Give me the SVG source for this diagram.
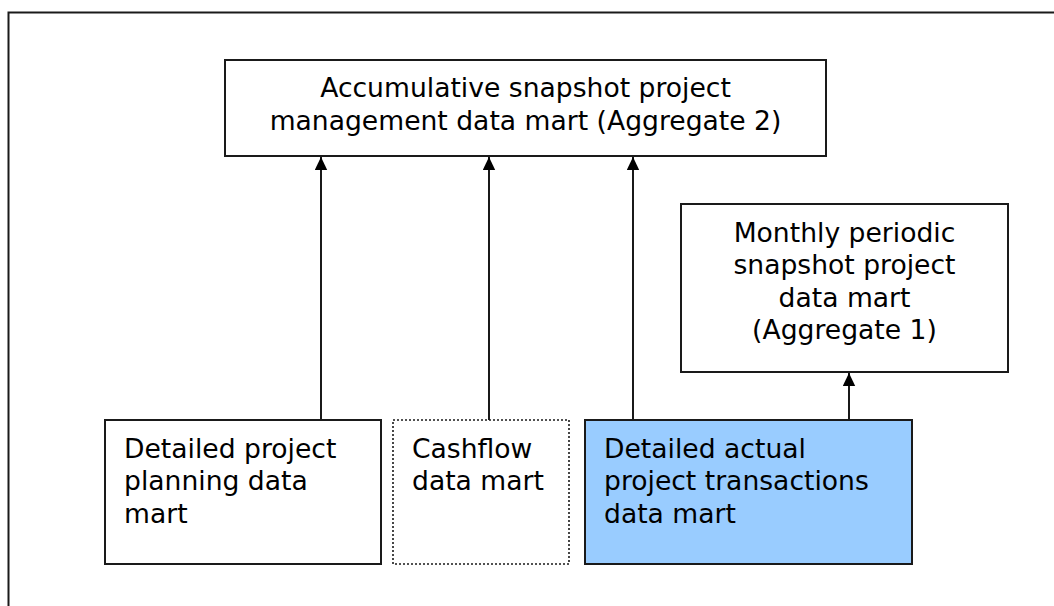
<svg xmlns="http://www.w3.org/2000/svg" width="1054" height="606" viewBox="0 0 1054 606">
  <style>
    .box { fill: #ffffff; stroke: #1a1a1a; stroke-width: 2; }
    .fact { fill: #99ccff; stroke: #1a1a1a; stroke-width: 2; }
    .dotted { fill: #ffffff; stroke: #1a1a1a; stroke-width: 1.6; stroke-dasharray: 2 2; }
    .frame { fill: none; stroke: #1a1a1a; stroke-width: 2; }
    .edge { stroke: #000000; stroke-width: 1.8; fill: none; marker-end: url(#arrow); }
    text { font-family: "DejaVu Sans", Verdana, sans-serif; font-size: 26.6px; fill: #000000; }
    .c { text-anchor: middle; }
  </style>
  <defs>
    <marker id="arrow" viewBox="0 0 13 13" refX="13" refY="6.5" markerWidth="13" markerHeight="13" markerUnits="userSpaceOnUse" orient="auto">
      <path d="M0,0.3 L13,6.5 L0,12.7 Z" fill="#000000"/>
    </marker>
  </defs>

  <!-- page frame -->
  <path class="frame" d="M8.5,606 L8.5,12.5 L1054,12.5"/>

  <g id="connectors">
    <line class="edge" x1="321" y1="420" x2="321" y2="157"/>
    <line class="edge" x1="489" y1="420" x2="489" y2="157"/>
    <line class="edge" x1="633" y1="420" x2="633" y2="157"/>
    <line class="edge" x1="849" y1="420" x2="849" y2="373"/>
  </g>

  <g id="aggregate2">
    <rect class="box" x="225" y="60" width="601" height="96"/>
    <text class="c" x="525.5" y="96.5">Accumulative snapshot project</text>
    <text class="c" x="525.5" y="129.5">management data mart (Aggregate 2)</text>
  </g>

  <g id="aggregate1">
    <rect class="box" x="681" y="204" width="327" height="168"/>
    <text class="c" x="844.5" y="241.5">Monthly periodic</text>
    <text class="c" x="844.5" y="274">snapshot project</text>
    <text class="c" x="844.5" y="306.5">data mart</text>
    <text class="c" x="844.5" y="339">(Aggregate 1)</text>
  </g>

  <g id="planning">
    <rect class="box" x="105" y="420" width="276" height="144"/>
    <text x="124" y="457.5">Detailed project</text>
    <text x="124" y="490">planning data</text>
    <text x="124" y="522.5">mart</text>
  </g>

  <g id="cashflow">
    <rect class="dotted" x="393" y="420" width="176" height="144"/>
    <text x="412" y="457.5">Cashflow</text>
    <text x="412" y="490">data mart</text>
  </g>

  <g id="transactions">
    <rect class="fact" x="585" y="420" width="327" height="144"/>
    <text x="604" y="457.5">Detailed actual</text>
    <text x="604" y="490">project transactions</text>
    <text x="604" y="522.5">data mart</text>
  </g>
</svg>
